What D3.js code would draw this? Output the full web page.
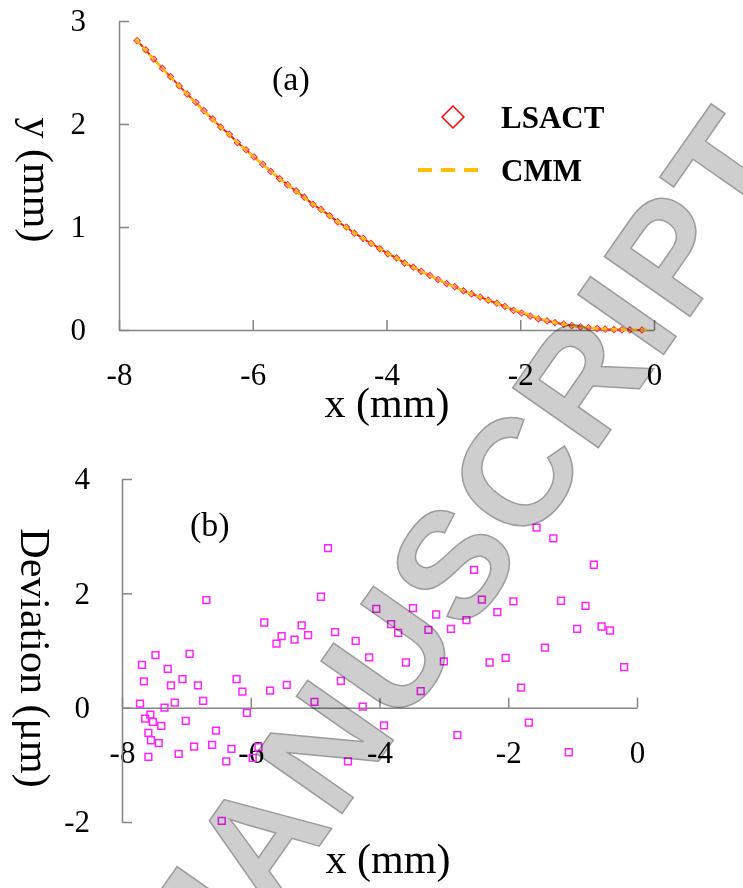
<!DOCTYPE html>
<html>
<head>
<meta charset="utf-8">
<script src="https://cdn.jsdelivr.net/npm/d3@7"></script>
<style>
body { margin: 0; background: #fff; }
svg { display: block; font-family: 'Liberation Serif', 'Times New Roman', serif; }
.axis path, .axis line { stroke: #858585; stroke-width: 1.5; }
.axis text { font-size: 31px; fill: #000; font-family: 'Liberation Serif', 'Times New Roman', serif; }
.axis-label { font-size: 42px; }
.panel-label { font-size: 34px; }
.legend-text { font-size: 31px; font-weight: bold; }
.watermark { font-family: 'Liberation Sans', Arial, sans-serif; font-size: 152px; font-weight: bold; letter-spacing: 4px; fill: #c6c6c6; fill-opacity: 0.85; stroke: #9c9c9c; stroke-width: 1.5; mix-blend-mode: multiply; }
</style>
</head>
<body>
<div id="chart"></div>
<script>
// (a) measured profile, x and y in mm
const lsactX = [-7.73, -7.60, -7.48, -7.35, -7.23, -7.10, -6.98, -6.85, -6.73, -6.60, -6.48, -6.35, -6.23, -6.10, -5.98,
    -5.85, -5.73, -5.60, -5.48, -5.35, -5.23, -5.10, -4.98, -4.85, -4.73, -4.60, -4.48, -4.35, -4.23, -4.10,
    -3.98, -3.85, -3.73, -3.60, -3.48, -3.35, -3.23, -3.10, -2.98, -2.85, -2.73, -2.60, -2.48, -2.35, -2.23,
    -2.10, -1.98, -1.85, -1.73, -1.60, -1.48, -1.35, -1.23, -1.10, -0.98, -0.85, -0.73, -0.60, -0.48, -0.36, -0.18]
const lsactY = [2.81, 2.72, 2.63, 2.54, 2.46, 2.37, 2.29, 2.21, 2.13, 2.05, 1.97, 1.90, 1.82, 1.75, 1.68,
    1.61, 1.54, 1.47, 1.41, 1.35, 1.29, 1.22, 1.17, 1.11, 1.05, 1.00, 0.94, 0.89, 0.84, 0.79,
    0.74, 0.70, 0.65, 0.61, 0.57, 0.53, 0.49, 0.45, 0.42, 0.38, 0.35, 0.32, 0.29, 0.26, 0.23,
    0.19, 0.165, 0.135, 0.108, 0.088, 0.072, 0.056, 0.043, 0.031, 0.022, 0.014, 0.008, 0.004, 0.002, 0.001, 0]
const cmmX = [-7.75, -7.0, -6.5, -6.0, -5.5, -5.0, -4.5, -4.0, -3.5, -3.0, -2.5, -2.0, -1.5, -1.0, -0.5, -0.05]
const cmmY = [2.82, 2.30, 1.98, 1.69, 1.42, 1.175, 0.952, 0.752, 0.576, 0.423, 0.294, 0.178, 0.075, 0.024, 0.004, 0]

// (b) deviation, x in mm, deviation in um
const devX = [-6.69, -5.79, -5.52, -5.60, -7.48, -6.95, -7.69, -7.29, -7.66, -7.24, -7.06, -6.82, -6.22, -6.13, -5.70,
    -5.44, -7.72, -7.18, -6.74, -7.34, -7.56, -7.64, -7.52, -7.39, -7.01, -6.06, -6.54, -7.59, -7.55, -7.43,
    -6.88, -6.60, -6.30, -5.88, -7.59, -7.12, -6.38, -5.97, -6.45, -4.80, -4.91, -4.05, -3.48, -3.12, -5.21,
    -3.82, -3.71, -3.24, -2.89, -5.32, -5.11, -4.69, -4.37, -4.16, -3.59, -3.00, -4.60, -3.36, -5.01, -4.26,
    -3.93, -2.79, -4.49, -1.56, -1.30, -0.67, -2.53, -2.41, -1.92, -1.18, -0.80, -2.17, -2.65, -0.93, -0.55,
    -0.42, -1.43, -2.29, -2.04, -0.20, -1.80, -1.68, -1.06]
const devY = [1.88, 1.49, 1.25, 1.12, 0.92, 0.94, 0.75, 0.68, 0.46, 0.39, 0.50, 0.39, 0.50, 0.28, 0.30,
    0.40, 0.07, 0.09, 0.12, 0.00, -0.12, -0.19, -0.25, -0.32, -0.23, -0.09, -0.40, -0.44, -0.57, -0.62,
    -0.68, -0.65, -0.72, -0.69, -0.86, -0.81, -0.94, -0.88, -1.98, 2.79, 1.94, 1.73, 1.74, 1.63, 1.44,
    1.46, 1.31, 1.36, 1.38, 1.19, 1.27, 1.32, 1.17, 0.88, 0.79, 0.81, 0.47, 0.29, 0.10, 0.02,
    -0.31, -0.48, -0.94, 3.15, 2.96, 2.50, 2.41, 1.89, 1.86, 1.87, 1.78, 1.67, 1.53, 1.38, 1.42,
    1.35, 1.05, 0.79, 0.87, 0.71, 0.35, -0.26, -0.78]

const xTicks = [-8, -6, -4, -2, 0]
const profileTicks = [0, 1, 2, 3]
const devTicks = [-2, 0, 2, 4]

const svg = d3.select('#chart').append('svg')
    .attr('width', 743)
    .attr('height', 888)

// axis helper, ticks point into the plot like the original
function drawAxes(g, xScale, yScale, yTicks, xPad, yPad) {
    g.append('g')
        .attr('class', 'axis')
        .attr('transform', `translate(0,${yScale(0)})`)
        .call(d3.axisBottom(xScale).tickValues(xTicks).tickSizeInner(-10).tickSizeOuter(0).tickPadding(xPad)
            .tickFormat(d => String(d)))
    g.append('g')
        .attr('class', 'axis')
        .attr('transform', `translate(${xScale.range()[0]},0)`)
        .call(d3.axisLeft(yScale).tickValues(yTicks).tickSizeInner(-10).tickSizeOuter(0).tickPadding(yPad)
            .tickFormat(d => String(d)))
}

// ---- (a) profile ----
const profileG = svg.append('g').attr('id', 'profile')
const xA = d3.scaleLinear().domain([-8, 0]).range([119, 654])
const yA = d3.scaleLinear().domain([0, 3]).range([330, 21])
drawAxes(profileG, xA, yA, profileTicks, 33, 33)

const lsact = lsactX.map((x, i) => ({ x: x, y: lsactY[i] }))
const cmm = cmmX.map((x, i) => ({ x: x, y: cmmY[i] }))

profileG.append('path')
    .datum(lsact)
    .attr('fill', 'none')
    .attr('stroke', '#ff1a1a')
    .attr('stroke-width', 2)
    .attr('d', d3.line().x(d => xA(d.x)).y(d => yA(d.y)))

const diamond = d3.symbol(d3.symbolSquare, 20)
profileG.selectAll('.lsact-pt')
    .data(lsact)
    .join('path')
    .attr('class', 'lsact-pt')
    .attr('d', diamond)
    .attr('transform', d => `translate(${xA(d.x)},${yA(d.y)}) rotate(45)`)
    .attr('fill', '#ffb0b0')
    .attr('fill-opacity', 0.6)
    .attr('stroke', '#ff3030')
    .attr('stroke-width', 1)

profileG.append('path')
    .datum(cmm)
    .attr('fill', 'none')
    .attr('stroke', '#ffc000')
    .attr('stroke-width', 2.5)
    .attr('stroke-dasharray', '6,4')
    .attr('d', d3.line().curve(d3.curveMonotoneX).x(d => xA(d.x)).y(d => yA(d.y)))

profileG.append('text').attr('class', 'panel-label').attr('x', 272).attr('y', 90).text('(a)')
profileG.append('text').attr('class', 'axis-label').attr('text-anchor', 'middle')
    .attr('x', 387).attr('y', 417).text('x (mm)')
profileG.append('text').attr('class', 'axis-label').attr('text-anchor', 'middle')
    .attr('transform', 'translate(24,180) rotate(90)').text('y (mm)')

// legend
const legend = profileG.append('g').attr('class', 'legend')
legend.append('path')
    .attr('d', d3.symbol(d3.symbolSquare, 240))
    .attr('transform', 'translate(453,117) rotate(45)')
    .attr('fill', 'none')
    .attr('stroke', '#ff0000')
    .attr('stroke-width', 1.5)
legend.append('text').attr('class', 'legend-text').attr('x', 501).attr('y', 128).text('LSACT')
legend.append('line')
    .attr('x1', 418).attr('x2', 484).attr('y1', 170).attr('y2', 170)
    .attr('stroke', '#ffc000')
    .attr('stroke-width', 4)
    .attr('stroke-dasharray', '14,9')
legend.append('text').attr('class', 'legend-text').attr('x', 501).attr('y', 181).text('CMM')

// ---- (b) deviation ----
const devG = svg.append('g').attr('id', 'deviation')
const xB = d3.scaleLinear().domain([-8, 0]).range([122, 637])
const yB = d3.scaleLinear().domain([-2, 4]).range([822, 479])
drawAxes(devG, xB, yB, devTicks, 33, 32)

const dev = devX.map((x, i) => ({ x: x, y: devY[i] }))
devG.selectAll('.dev-pt')
    .data(dev)
    .join('path')
    .attr('class', 'dev-pt')
    .attr('d', d3.symbol(d3.symbolSquare, 46))
    .attr('transform', d => `translate(${xB(d.x)},${yB(d.y)})`)
    .attr('fill', 'none')
    .attr('stroke', '#ff22ff')
    .attr('stroke-width', 1.5)

devG.append('text').attr('class', 'panel-label').attr('x', 190).attr('y', 536).text('(b)')
devG.append('text').attr('class', 'axis-label').attr('text-anchor', 'middle')
    .attr('x', 388).attr('y', 873).text('x (mm)')
devG.append('text').attr('class', 'axis-label').attr('text-anchor', 'middle')
    .attr('transform', 'translate(21,658) rotate(90)').text('Deviation (μm)')

// journal watermark over the figure
svg.append('text')
    .attr('class', 'watermark')
    .attr('transform', 'translate(196,1022) rotate(-55)')
    .text('MANUSCRIPT')
</script>
</body>
</html>
